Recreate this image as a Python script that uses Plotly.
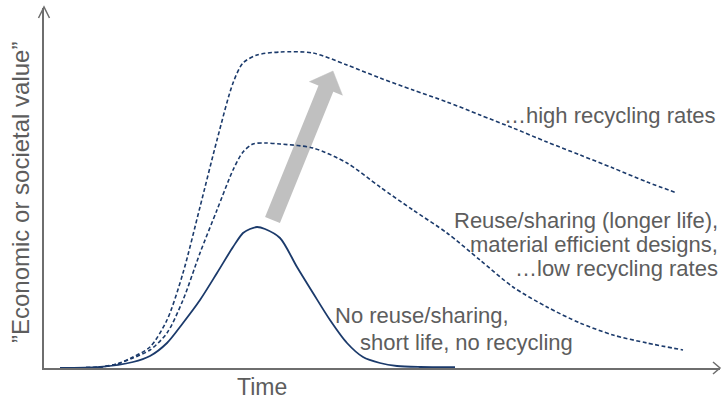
import math
import plotly.graph_objects as go

# ---- data (time units / value units, origin at axes corner) ----
low_time = [16, 56, 89, 106, 123, 139, 156, 173, 189, 199, 206, 213, 221, 236, 253, 269, 286, 303, 319, 336, 353, 376, 411]
low_value = [0, 1, 6, 12, 25, 45, 68, 95, 121, 135, 139, 141, 139, 130, 101, 75, 48, 25, 11, 5, 2, 1, 0.8]

mid_time = [16, 56, 73, 89, 106, 123, 139, 156, 173, 189, 199, 209, 221, 236, 269, 303, 336, 369, 403, 436, 469, 503, 536, 569, 603, 639]
mid_value = [0, 1, 4, 10, 18, 35, 68, 115, 158, 198, 216, 224, 225, 224, 220, 205, 181, 158, 135, 108, 81, 61, 45, 33, 25, 18]

high_time = [16, 56, 73, 89, 106, 123, 139, 156, 173, 189, 199, 213, 236, 269, 303, 336, 369, 403, 436, 469, 503, 536, 569, 603, 633]
high_value = [0, 1, 4, 11, 21, 48, 95, 161, 228, 285, 305, 313, 316, 315, 303, 290, 278, 266, 253, 240, 226, 213, 200, 186, 175]

# grey arrow: tail centre and arrow tip
arrow_time = [228.5, 289.0]
arrow_value = [148, 297]

x_range = [0, 676]
y_range = [0, 360]

label_high = "…high recycling rates"
label_mid = ["Reuse/sharing (longer life),", "material efficient designs,", "…low recycling rates"]
label_low = ["No reuse/sharing,", "short life, no recycling"]
x_title = "Time"
y_title = "”Economic or societal value”"

NAVY = "#1b3a6b"
GREY_TXT = "#5d5d5d"
AXIS = "#6e6e6e"
ARROW = "#c0c0c0"
FONT = "Arial, Liberation Sans, sans-serif"
HEAD_LEN = 19.0     # style: arrow head length (axis units = px here)
HEAD_HALF = 18.0    # style: arrow head half width
SHAFT_W = 16

fig = go.Figure()

# grey arrow (drawn first so the curves sit on top), geometry derived from the arrow data
sx, tx = arrow_time
sy, ty = arrow_value
L = math.hypot(tx - sx, ty - sy)
ux, uy = (tx - sx) / L, (ty - sy) / L
nx, ny = -uy, ux
bx, by = tx - HEAD_LEN * ux, ty - HEAD_LEN * uy
fig.add_trace(go.Scatter(x=[sx, bx + ux], y=[sy, by + uy], mode="lines",
                         line=dict(color=ARROW, width=SHAFT_W), hoverinfo="skip", showlegend=False))
fig.add_trace(go.Scatter(x=[bx + HEAD_HALF * nx, tx, bx - HEAD_HALF * nx],
                         y=[by + HEAD_HALF * ny, ty, by - HEAD_HALF * ny],
                         mode="lines", fill="toself", fillcolor=ARROW,
                         line=dict(color=ARROW, width=0.5), hoverinfo="skip", showlegend=False))

fig.add_trace(go.Scatter(x=high_time, y=high_value, mode="lines", line=dict(color=NAVY, width=1.6, dash="4px,2.5px", shape="spline", smoothing=0.8), hoverinfo="skip", showlegend=False))
fig.add_trace(go.Scatter(x=mid_time, y=mid_value, mode="lines", line=dict(color=NAVY, width=1.6, dash="4px,2.5px", shape="spline", smoothing=0.8), hoverinfo="skip", showlegend=False))
fig.add_trace(go.Scatter(x=low_time, y=low_value, mode="lines", line=dict(color=NAVY, width=1.8, shape="spline", smoothing=0.8), hoverinfo="skip", showlegend=False))


def px_(v):
    return v / (x_range[1] - x_range[0])


def py_(v):
    return v / (y_range[1] - y_range[0])


ann = []
ann.append(dict(x=px_(674), y=py_(253), text=label_high, xanchor="right", yanchor="middle"))
for t, yy in zip(label_mid, [148, 124, 100]):
    ann.append(dict(x=px_(676), y=py_(yy), text=t, xanchor="right", yanchor="middle"))
ann.append(dict(x=px_(289), y=py_(53), text=label_low[0], xanchor="left", yanchor="middle"))
ann.append(dict(x=px_(314), y=py_(26), text=label_low[1], xanchor="left", yanchor="middle"))
for a in ann:
    a.update(xref="paper", yref="paper", showarrow=False, font=dict(family=FONT, size=22, color=GREY_TXT))

ann.append(dict(x=px_(218), y=py_(-19), xref="paper", yref="paper", text=x_title, showarrow=False,
                xanchor="center", yanchor="middle", font=dict(family=FONT, size=23, color=GREY_TXT)))
ann.append(dict(x=px_(-23), y=py_(175), xref="paper", yref="paper", text=y_title, showarrow=False, textangle=-90,
                xanchor="center", yanchor="middle", font=dict(family=FONT, size=24, color=GREY_TXT)))

shapes = [
    # arrowhead at the top of the value axis
    dict(type="path", xref="paper", yref="paper", xsizemode="pixel", ysizemode="pixel",
         xanchor=0, yanchor=1, path="M-5.5,-10 L0,1 L5.5,-10",
         line=dict(color=AXIS, width=1.5)),
    # arrowhead at the right end of the time axis
    dict(type="path", xref="paper", yref="paper", xsizemode="pixel", ysizemode="pixel",
         xanchor=1, yanchor=0, path="M-7,6 L0,0 L-7,-6",
         line=dict(color=AXIS, width=1.5)),
]

axis_common = dict(showgrid=False, zeroline=False, showticklabels=False, ticks="",
                   showline=True, linecolor=AXIS, linewidth=1.5, fixedrange=True)

fig.update_layout(
    width=722, height=402,
    margin=dict(l=44, r=2, t=8, b=34, pad=0),
    paper_bgcolor="white", plot_bgcolor="white",
    xaxis=dict(range=x_range, **axis_common),
    yaxis=dict(range=y_range, **axis_common),
    annotations=ann, shapes=shapes,
    showlegend=False,
)

fig.write_html("out.html", config={"displayModeBar": False},
               post_script="document.body.style.margin='0';document.documentElement.style.margin='0';")
